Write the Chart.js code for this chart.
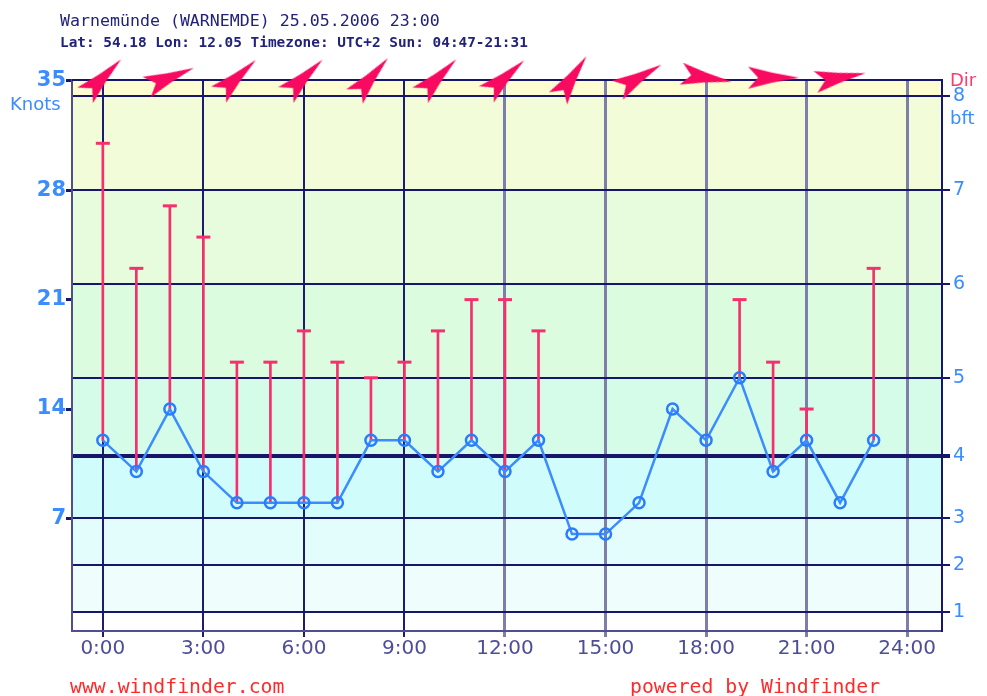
<!DOCTYPE html>
<html>
<head>
<meta charset="utf-8">
<script src="https://cdn.jsdelivr.net/npm/chart.js@4/dist/chart.umd.min.js"></script>
<style>
  html, body { margin: 0; padding: 0; background: #fff; }
  #wrap { position: relative; width: 987px; height: 696px; overflow: hidden; }
  #wrap canvas { position: absolute; left: 0; top: 0; }
  .txt { position: absolute; white-space: pre; margin: 0; }
  .mono { font-family: "DejaVu Sans Mono", monospace; }
  .sans { font-family: "DejaVu Sans", sans-serif; }
</style>
</head>
<body>
<div id="wrap">
  <canvas id="chart" width="987" height="696"></canvas>
  <div class="txt mono" style="left:60px;top:12px;font-size:16.6px;line-height:18px;color:#22227a;">Warnemünde (WARNEMDE) 25.05.2006 23:00</div>
  <div class="txt mono" style="left:60px;top:34px;font-size:14.4px;line-height:16px;font-weight:bold;color:#22227a;">Lat: 54.18 Lon: 12.05 Timezone: UTC+2 Sun: 04:47-21:31</div>
  <div class="txt sans" style="left:10px;top:94px;font-size:18px;line-height:20px;color:#3a8cff;">Knots</div>
  <div class="txt sans" style="left:950px;top:70px;font-size:18px;line-height:20px;color:#ff3a6e;">Dir</div>
  <div class="txt sans" style="left:950px;top:108px;font-size:18px;line-height:20px;color:#3a8cff;">bft</div>
  <div class="txt mono" style="left:70px;top:676px;font-size:19.8px;line-height:22px;color:#ff2a2a;">www.windfinder.com</div>
  <div class="txt mono" style="left:630px;top:676px;font-size:19.8px;line-height:22px;color:#ff2a2a;">powered by Windfinder</div>
</div>
<script>
// forecast hours and values (knots)
const hours = [0, 1, 2, 3, 4, 5, 6, 7, 8, 9, 10, 11, 12, 13, 14, 15, 16, 17, 18, 19, 20, 21, 22, 23];
const windKnots = [12, 10, 14, 10, 8, 8, 8, 8, 12, 12, 10, 12, 10, 12, 6, 6, 8, 14, 12, 16, 10, 12, 8, 12];
const gustKnots = [31, 23, 27, 25, 17, 17, 19, 17, 16, 17, 19, 21, 21, 19, null, null, null, null, null, 21, 17, 14, null, 23];

// wind direction (degrees, where the wind comes from), every 2 hours
const dirHours = [0, 2, 4, 6, 8, 10, 12, 14, 16, 18, 20, 22];
const dirFrom = [225, 248, 227, 226, 221, 225, 228, 214, 240, 279, 270, 260];

// axis ticks
const timeTicks = [0, 3, 6, 9, 12, 15, 18, 21, 24];
const knotTicks = [7, 14, 21, 28, 35];
const bftKnots = [1, 4, 7, 11, 16, 22, 28, 34];
const bftLabels = ['1', '2', '3', '4', '5', '6', '7', '8'];

const NAVY = '#16166c';
const bandColors = ['#ffffff', '#effdfd', '#e3fdfd', '#d0fdfc', '#d4fce8', '#dcfce0', '#e6fcdc', '#f2fcd8', '#fdfdd2'];

// dart-shaped arrow, pointing right, rotated per point
function makeArrow() {
  const c = document.createElement('canvas');
  c.width = 58; c.height = 58;
  const g = c.getContext('2d');
  g.translate(29, 29);
  g.fillStyle = '#f70a5f';
  g.beginPath();
  g.moveTo(26, 0);
  g.quadraticCurveTo(0, -4, -25, -11);
  g.lineTo(-15, 0);
  g.lineTo(-25, 11);
  g.quadraticCurveTo(0, 4, 26, 0);
  g.closePath();
  g.fill();
  return c;
}
const arrowImg = makeArrow();

const bands = {
  id: 'bands',
  beforeDraw(chart) {
    const { ctx, chartArea: a } = chart;
    const y = chart.scales.y2;
    const edges = [y.min].concat(bftKnots, [y.max]);
    ctx.save();
    for (let i = 0; i < edges.length - 1; i++) {
      const top = y.getPixelForValue(edges[i + 1]);
      const bot = y.getPixelForValue(edges[i]);
      ctx.fillStyle = bandColors[i];
      ctx.fillRect(a.left, top, a.right - a.left, bot - top);
    }
    ctx.restore();
  },
  beforeDatasetsDraw(chart) {
    const { ctx, chartArea: a } = chart;
    ctx.save();
    ctx.strokeStyle = NAVY;
    ctx.lineWidth = 2;
    ctx.beginPath();
    ctx.moveTo(a.left, a.top);
    ctx.lineTo(a.right, a.top);
    ctx.stroke();
    ctx.restore();
  }
};

const gustBars = [];
const gustCaps = [];
hours.forEach((h, i) => {
  if (gustKnots[i] != null) {
    gustBars.push({ x: h, y: [windKnots[i], gustKnots[i]] });
    gustCaps.push({ x: h, y: gustKnots[i] });
  }
});

new Chart(document.getElementById('chart'), {
  type: 'line',
  data: {
    datasets: [
      {
        type: 'scatter',
        label: 'Direction',
        data: dirHours.map(h => ({ x: h, y: 35.2 })),
        pointStyle: arrowImg,
        pointRadius: 24,
        pointRotation: dirFrom.map(d => d + 90),
        clip: false,
        order: 0
      },
      {
        type: 'line',
        label: 'Wind',
        data: hours.map((h, i) => ({ x: h, y: windKnots[i] })),
        borderColor: '#3a8cff',
        borderWidth: 2.5,
        pointRadius: 5.5,
        pointBorderWidth: 2.5,
        pointBorderColor: '#2a7cff',
        pointBackgroundColor: 'rgba(0,0,0,0)',
        tension: 0,
        order: 1
      },
      {
        type: 'scatter',
        label: 'Gust cap',
        data: gustCaps,
        pointStyle: 'line',
        pointRadius: 7,
        pointBorderWidth: 3,
        pointBorderColor: '#f5306e',
        order: 2
      },
      {
        type: 'bar',
        label: 'Gusts',
        data: gustBars,
        backgroundColor: '#f5306e',
        barThickness: 2,
        grouped: false,
        order: 3
      }
    ]
  },
  options: {
    responsive: false,
    animation: false,
    events: [],
    layout: { padding: { top: 80, left: 0, right: 0, bottom: 0 } },
    plugins: { legend: { display: false }, tooltip: { enabled: false } },
    scales: {
      x: {
        type: 'linear',
        offset: false,
        min: -0.92,
        max: 25.04,
        afterBuildTicks: s => { s.ticks = timeTicks.map(v => ({ value: v })); },
        afterFit: s => { s.height = 65; },
        ticks: {
          callback: v => v + ':00',
          color: '#4e4e98',
          font: { family: 'DejaVu Sans', size: 20 },
          padding: 0,
          maxRotation: 0,
          autoSkip: false
        },
        grid: {
          offset: false,
          color: c => (c.tick && c.tick.value <= 9 ? '#1c1c70' : '#7e7eaa'),
          lineWidth: c => (c.tick && c.tick.value <= 9 ? 2 : 3),
          tickLength: 6
        },
        border: { color: '#4e4e90', width: 2 }
      },
      y: {
        position: 'left',
        min: -0.2,
        max: 35.05,
        afterBuildTicks: s => { s.ticks = knotTicks.map(v => ({ value: v })); },
        afterFit: s => { s.width = 72; },
        ticks: {
          color: '#3a8cff',
          font: { family: 'DejaVu Sans', size: 21, weight: 'bold' },
          padding: 0
        },
        grid: { drawOnChartArea: false, tickLength: 6, tickColor: NAVY, tickWidth: 3 },
        border: { color: '#4e4e90', width: 2 }
      },
      y2: {
        position: 'right',
        min: -0.2,
        max: 35.05,
        afterBuildTicks: s => { s.ticks = bftKnots.map(v => ({ value: v })); },
        afterFit: s => { s.width = 45; },
        ticks: {
          callback: (v, i) => bftLabels[i],
          color: '#3a8cff',
          font: { family: 'DejaVu Sans', size: 19 },
          padding: 3
        },
        grid: {
          color: NAVY,
          lineWidth: c => (c.tick && c.tick.value === 11 ? 4 : 2),
          tickLength: 8
        },
        border: { color: NAVY, width: 2 }
      }
    }
  },
  plugins: [bands]
});
</script>
</body>
</html>
